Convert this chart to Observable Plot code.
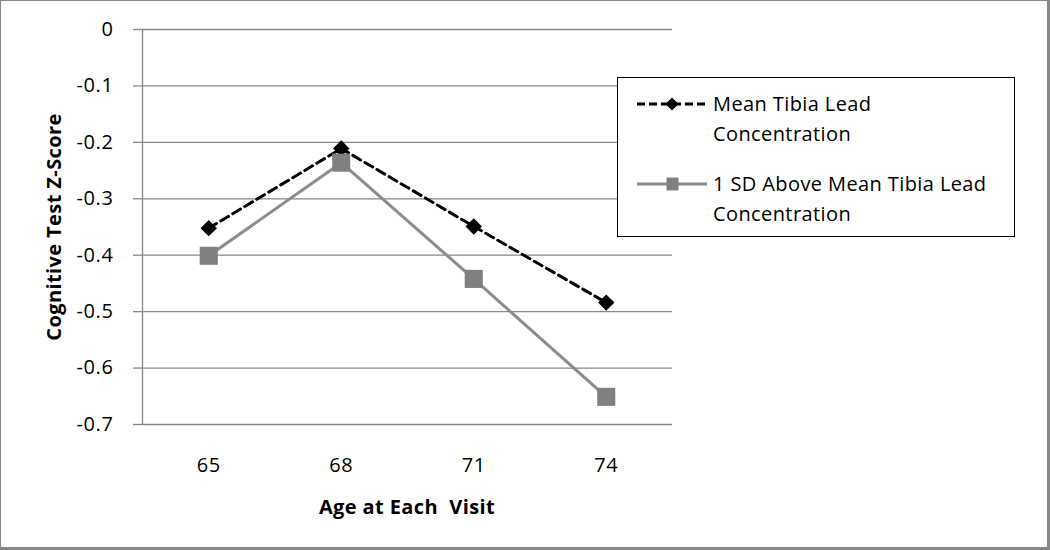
<!DOCTYPE html>
<html>
<head>
<meta charset="utf-8">
<script src="https://cdn.jsdelivr.net/npm/d3@7"></script>
<script src="https://cdn.jsdelivr.net/npm/@observablehq/plot@0.6"></script>
<style>
  html, body { margin: 0; padding: 0; background: #fff; }
  #wrap { position: relative; width: 1050px; height: 550px; overflow: hidden; font-family: "Open Sans", sans-serif; }
  #wrap > svg { position: absolute; left: 0; top: 0; }
  #wrap svg text { white-space: pre; letter-spacing: 0.6px; }
  #border { position: absolute; left: 0; top: 0; width: 1050px; height: 550px; box-sizing: border-box;
    border: 1px solid #878787; border-right: 3px solid #878787; border-bottom: 3px solid #878787; pointer-events: none; }
  .title { position: absolute; font-weight: bold; font-size: 20px; line-height: 27px; color: #000; white-space: pre; letter-spacing: 0.4px; }
  #xtitle { left: 142px; width: 530px; text-align: center; top: 493px; }
  #ytitle { left: 53px; top: 227px; transform: translate(-50%, -50%) rotate(-90deg); }
  #legend { position: absolute; left: 617px; top: 77px; width: 398px; height: 160px; box-sizing: border-box;
    border: 1px solid #000; background: #fff; font-size: 20px; color: #000; letter-spacing: 0.4px; }
  .entry { position: absolute; left: 19px; }
  .entry svg { position: absolute; left: 0; top: 5px; }
  .entry .lbl { position: absolute; left: 76px; top: 0; line-height: 30px; white-space: nowrap; }
</style>
</head>
<body>
<div id="wrap"></div>
<script>
// Data
const ages = [65, 68, 71, 74];
const meanLead = [-0.352, -0.211, -0.349, -0.484];
const sdAboveLead = [-0.401, -0.236, -0.442, -0.651];
const yTicks = [0, -0.1, -0.2, -0.3, -0.4, -0.5, -0.6, -0.7];
const yTickLabels = ["0", "-0.1", "-0.2", "-0.3", "-0.4", "-0.5", "-0.6", "-0.7"];
const seriesNames = ["Mean Tibia Lead Concentration", "1 SD Above Mean Tibia Lead Concentration"];
const legendLines = [["Mean Tibia Lead", "Concentration"], ["1 SD Above Mean Tibia Lead", "Concentration"]];
const xTitle = "Age at Each  Visit";
const yTitle = "Cognitive Test Z-Score";

const meanData = ages.map((a, i) => ({age: a, z: meanLead[i], series: seriesNames[0]}));
const sdData = ages.map((a, i) => ({age: a, z: sdAboveLead[i], series: seriesNames[1]}));

const gridColor = "#878787";
const grayLine = "#8c8c8c";
const graySquare = "#808080";

const chart = Plot.plot({
  width: 1050,
  height: 550,
  marginLeft: 142,
  marginRight: 378,
  marginTop: 29,
  marginBottom: 126,
  style: {fontFamily: "Open Sans, sans-serif", fontSize: "20px", color: "#000", background: "transparent"},
  x: {type: "linear", domain: [63.5, 75.5]},
  y: {domain: [-0.7, 0]},
  marks: [
    Plot.ruleY(yTicks, {stroke: gridColor, strokeWidth: 1.3}),
    Plot.ruleX([63.5], {stroke: gridColor, strokeWidth: 1.3}),
    Plot.axisY({ticks: yTicks, tickFormat: d => yTickLabels[yTicks.indexOf(d)], tickSize: 9, tickPadding: 20,
      stroke: gridColor, strokeWidth: 1.3, label: null, fill: "#000", fontSize: 20}),
    Plot.axisX({ticks: ages, tickFormat: d => String(d), tickSize: 0, tickPadding: 33, label: null, fill: "#000", fontSize: 20}),
    Plot.line(meanData, {x: "age", y: "z", stroke: "#000", strokeWidth: 3, strokeDasharray: "9,5"}),
    Plot.dot(meanData, {x: "age", y: "z", symbol: "diamond2", r: 7.4, fill: "#000", stroke: "none"}),
    Plot.line(sdData, {x: "age", y: "z", stroke: grayLine, strokeWidth: 3}),
    Plot.dot(sdData, {x: "age", y: "z", symbol: "square", r: 10.2, fill: graySquare, stroke: "none"})
  ]
});

const wrap = document.getElementById("wrap");
wrap.appendChild(chart);

const xt = document.createElement("div"); xt.className = "title"; xt.id = "xtitle"; xt.textContent = xTitle; wrap.appendChild(xt);
const yt = document.createElement("div"); yt.className = "title"; yt.id = "ytitle"; yt.textContent = yTitle; wrap.appendChild(yt);

// Legend
const legend = document.createElement("div"); legend.id = "legend";
const swatches = [
  `<svg width="70" height="20"><line x1="0" y1="10" x2="70" y2="10" stroke="#000" stroke-width="3" stroke-dasharray="8,4"/><path d="M35,3.5 L41.5,10 L35,16.5 L28.5,10 Z" fill="#000"/></svg>`,
  `<svg width="70" height="20"><line x1="0" y1="10" x2="70" y2="10" stroke="${grayLine}" stroke-width="3"/><rect x="29.5" y="3.5" width="12" height="13" fill="${graySquare}"/></svg>`
];
const tops = [11, 91];
legendLines.forEach((lines, i) => {
  const e = document.createElement("div"); e.className = "entry"; e.style.top = tops[i] + "px";
  e.innerHTML = swatches[i] + `<div class="lbl">${lines.join("<br>")}</div>`;
  legend.appendChild(e);
});
wrap.appendChild(legend);

const b = document.createElement("div"); b.id = "border"; wrap.appendChild(b);
</script>
</body>
</html>
